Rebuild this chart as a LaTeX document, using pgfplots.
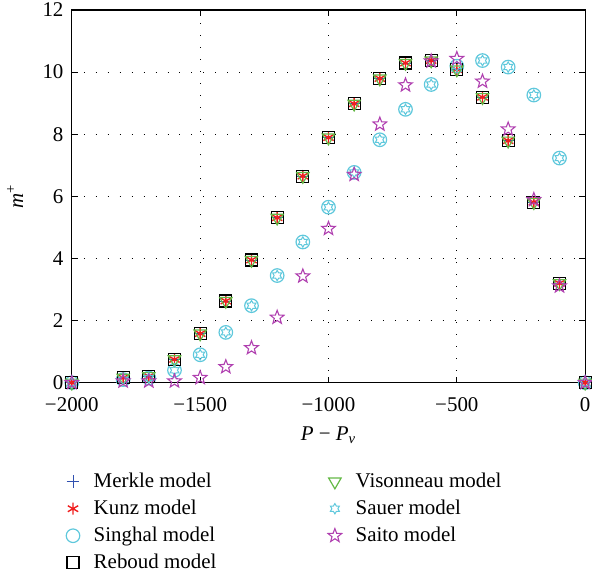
\documentclass[border=0pt]{standalone}
\usepackage{pgfplots}
\pgfplotsset{compat=1.18}
\usepackage{fontspec}
\setmainfont{Liberation Serif}
\definecolor{cMer}{RGB}{48,80,176}
\definecolor{cKun}{RGB}{240,30,30}
\definecolor{cSin}{RGB}{95,200,220}
\definecolor{cVis}{RGB}{100,185,70}
\definecolor{cSai}{RGB}{176,64,176}
\pgfdeclareplotmark{hexstar}{%
  \pgfpathmoveto{\pgfpointpolar{90}{\pgfplotmarksize}}%
  \pgfpathlineto{\pgfpointpolar{120}{0.577\pgfplotmarksize}}%
  \pgfpathlineto{\pgfpointpolar{150}{\pgfplotmarksize}}%
  \pgfpathlineto{\pgfpointpolar{180}{0.577\pgfplotmarksize}}%
  \pgfpathlineto{\pgfpointpolar{210}{\pgfplotmarksize}}%
  \pgfpathlineto{\pgfpointpolar{240}{0.577\pgfplotmarksize}}%
  \pgfpathlineto{\pgfpointpolar{270}{\pgfplotmarksize}}%
  \pgfpathlineto{\pgfpointpolar{300}{0.577\pgfplotmarksize}}%
  \pgfpathlineto{\pgfpointpolar{330}{\pgfplotmarksize}}%
  \pgfpathlineto{\pgfpointpolar{0}{0.577\pgfplotmarksize}}%
  \pgfpathlineto{\pgfpointpolar{30}{\pgfplotmarksize}}%
  \pgfpathlineto{\pgfpointpolar{60}{0.577\pgfplotmarksize}}%
  \pgfpathclose
  \pgfusepathqstroke
}
\pgfdeclareplotmark{pentstar}{%
  \pgfpathmoveto{\pgfpointpolar{90}{\pgfplotmarksize}}%
  \pgfpathlineto{\pgfpointpolar{126}{0.42\pgfplotmarksize}}%
  \pgfpathlineto{\pgfpointpolar{162}{\pgfplotmarksize}}%
  \pgfpathlineto{\pgfpointpolar{198}{0.42\pgfplotmarksize}}%
  \pgfpathlineto{\pgfpointpolar{234}{\pgfplotmarksize}}%
  \pgfpathlineto{\pgfpointpolar{270}{0.42\pgfplotmarksize}}%
  \pgfpathlineto{\pgfpointpolar{306}{\pgfplotmarksize}}%
  \pgfpathlineto{\pgfpointpolar{342}{0.42\pgfplotmarksize}}%
  \pgfpathlineto{\pgfpointpolar{18}{\pgfplotmarksize}}%
  \pgfpathlineto{\pgfpointpolar{54}{0.42\pgfplotmarksize}}%
  \pgfpathclose
  \pgfusepathqstroke
}
\pgfplotstableread{
x main sing sai
-2000 0 0 0
-1800 0.16 0.10 0.05
-1700 0.21 0.15 0.05
-1600 0.75 0.40 0.05
-1500 1.58 0.90 0.16
-1400 2.63 1.62 0.51
-1300 3.95 2.48 1.12
-1200 5.31 3.45 2.10
-1100 6.65 4.53 3.43
-1000 7.89 5.65 4.96
-900 8.98 6.77 6.70
-800 9.79 7.82 8.32
-700 10.29 8.80 9.58
-600 10.37 9.60 10.35
-500 10.08 10.19 10.43
-400 9.19 10.37 9.70
-300 7.79 10.16 8.16
-200 5.81 9.26 5.89
-100 3.20 7.23 3.11
0 0 0 0
}\datatab
\begin{document}
\fontsize{10.5}{12.6}\selectfont
\begin{tikzpicture}
\begin{axis}[
  scale only axis,
  width=257.5pt, height=187pt,
  xmin=-2000, xmax=0, ymin=0, ymax=12,
  xtick={-2000,-1500,-1000,-500,0},
  xticklabels={−2000,−1500,−1000,−500,0},
  ytick={0,2,4,6,8,10,12},
  yticklabels={0,2,4,6,8,10,12},
  tick align=inside,
  major tick length=3pt,
  tick style={black, line width=0.5pt},
  axis line style={black, line width=0.6pt},
  grid=major,
  major grid style={black, line width=0.5pt, dash pattern=on 0.5pt off 5.5pt},
  xlabel={\textit{P} − \textit{P}\textsubscript{\textit{v}}},
  ylabel={\textit{m}\textsuperscript{+}},
  xlabel style={yshift=-0.5pt},
  ylabel style={yshift=2.5pt},
  xticklabel style={yshift=-3.5pt, inner xsep=0pt},
  yticklabel style={inner ysep=1.5pt, xshift=-0.5pt},
  ticklabel style={font=\fontsize{10.5}{12.6}\selectfont},
  label style={font=\fontsize{10.5}{12.6}\selectfont},
  transpose legend,
  legend columns=4,
  legend cell align=left,
  legend style={
    at={(axis description cs:0,0)}, anchor=north west,
    xshift=-6pt, yshift=-41pt,
    draw=none, fill=none,
    font=\fontsize{10.5}{12.6}\selectfont,
    row sep=0.7pt,
    /tikz/every odd column/.append style={column sep=5pt},
    /tikz/every even column/.append style={column sep=54pt},
  },
  clip=false,
]
\addplot[only marks, mark=+, mark size=3.2pt, color=cMer, line width=0.5pt] table[x=x,y=main]{\datatab};
\addlegendentry{Merkle model}
\addplot[only marks, mark=asterisk, mark size=3.0pt, color=cKun, line width=0.7pt] table[x=x,y=main]{\datatab};
\addlegendentry{Kunz model}
\addplot[only marks, mark=o, mark size=3.4pt, color=cSin, line width=0.6pt] table[x=x,y=sing]{\datatab};
\addlegendentry{Singhal model}
\addplot[only marks, mark=square, mark size=3.0pt, color=black, line width=0.6pt] table[x=x,y=main]{\datatab};
\addlegendentry{Reboud model}
\addplot[only marks, mark=triangle, mark options={rotate=180}, mark size=3.6pt, color=cVis, line width=0.6pt] table[x=x,y=main]{\datatab};
\addlegendentry{Visonneau model}
\addplot[only marks, mark=hexstar, mark size=2.6pt, color=cSin, line width=0.5pt] table[x=x,y=sing]{\datatab};
\addlegendentry{Sauer model}
\addplot[only marks, mark=pentstar, mark size=3.6pt, color=cSai, line width=0.55pt] table[x=x,y=sai]{\datatab};
\addlegendentry{Saito model}
\end{axis}
\end{tikzpicture}
\end{document}
